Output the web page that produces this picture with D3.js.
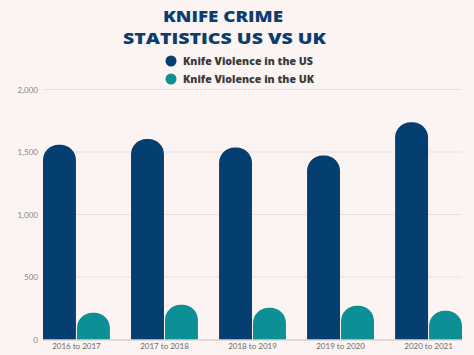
<!DOCTYPE html>
<html><head><meta charset="utf-8">
<script src="https://cdn.jsdelivr.net/npm/d3@7"></script>
<style>
html,body{margin:0;padding:0;background:#FBF4F2;}
svg{display:block;}
</style></head>
<body>
<svg id="c" width="474" height="355"></svg>
<script>
const categories = ["2016 to 2017","2017 to 2018","2018 to 2019","2019 to 2020","2020 to 2021"];
const usValues = [1558, 1604, 1537, 1473, 1738];
const ukValues = [215, 279, 255, 271, 231];
const seriesNames = ["Knife Violence in the US","Knife Violence in the UK"];
const yTicks = [0, 500, 1000, 1500, 2000];
const colors = ["#053E71", "#0C8F95"];

const svg = d3.select("#c");
svg.append("rect").attr("width",474).attr("height",355).attr("fill","#FBF4F2");

const x = d3.scaleBand().domain(categories).range([43, 462]).paddingInner(0.24).paddingOuter(0);
const xs = d3.scaleBand().domain([0,1]).range([0, x.bandwidth()]).paddingInner(0.03);
const y = d3.scaleLinear().domain([0, 2000]).range([339.5, 89.5]);

// gridlines
svg.append("g").selectAll("line").data(yTicks.filter(d=>d>0)).join("line")
  .attr("x1",43).attr("x2",462)
  .attr("y1",d=>y(d)).attr("y2",d=>y(d))
  .attr("stroke","#E8E1DF").attr("stroke-width",1);

// y tick labels
const yAxis = d3.axisLeft(y).tickValues(yTicks).tickFormat(d3.format(",")).tickSize(0).tickPadding(0);
const ya = svg.append("g").attr("transform","translate(38,0)").call(yAxis);
ya.select(".domain").remove();
ya.selectAll("text").attr("fill","#8A8583").style("font-family","Lato, 'Open Sans', sans-serif").style("font-size","8px");

// bars with rounded tops
function topRounded(x0, w, yTop, yBase) {
  const r = Math.min(w/2 - 1, yBase - yTop);
  return `M${x0},${yBase} V${yTop+r} A${r},${r} 0 0 1 ${x0+r},${yTop} H${x0+w-r} A${r},${r} 0 0 1 ${x0+w},${yTop+r} V${yBase} Z`;
}
const data = categories.map((c,i)=>({c, v:[usValues[i], ukValues[i]]}));
const groups = svg.append("g").selectAll("g").data(data).join("g")
  .attr("transform", d=>`translate(${x(d.c)},0)`);
groups.selectAll("path").data(d=>d.v.map((v,k)=>({v,k}))).join("path")
  .attr("d", d=>topRounded(xs(d.k), xs.bandwidth(), y(d.v), y(0)))
  .attr("fill", d=>colors[d.k]);

// baseline
svg.append("line").attr("x1",43).attr("x2",462).attr("y1",y(0)+0.5).attr("y2",y(0)+0.5)
  .attr("stroke","#C9C2C0").attr("stroke-width",1);

// x axis labels
const xAxis = d3.axisBottom(x).tickSize(0).tickPadding(0);
const xa = svg.append("g").attr("transform",`translate(0,${y(0)+4})`).call(xAxis);
xa.select(".domain").remove();
xa.selectAll("text").attr("fill","#6E6A69").style("font-family","Lato, 'Open Sans', sans-serif").style("font-size","8px");

// title
const title = svg.append("g").attr("fill","#0B3D6E")
  .style("font-family","'Open Sans', Lato, sans-serif").style("font-weight","800").style("font-size","16px");
title.append("text").attr("x",163).attr("y",22).attr("textLength",120).attr("lengthAdjust","spacingAndGlyphs").text("KNIFE CRIME");
title.append("text").attr("x",123).attr("y",44).attr("textLength",203).attr("lengthAdjust","spacingAndGlyphs").text("STATISTICS US VS UK");

// legend
const legend = svg.append("g").selectAll("g").data(seriesNames).join("g")
  .attr("transform",(d,i)=>`translate(171,${61 + i*18})`);
legend.append("circle").attr("r",5.5).attr("fill",(d,i)=>colors[i]);
legend.append("text").attr("x",12).attr("y",4).text(d=>d)
  .attr("textLength",(d,i)=>i===0?130:131).attr("lengthAdjust","spacingAndGlyphs")
  .attr("fill","#3C3A3A").style("font-family","'Open Sans', Lato, sans-serif")
  .style("font-weight","800").style("font-size","11px");
</script>
</body></html>
